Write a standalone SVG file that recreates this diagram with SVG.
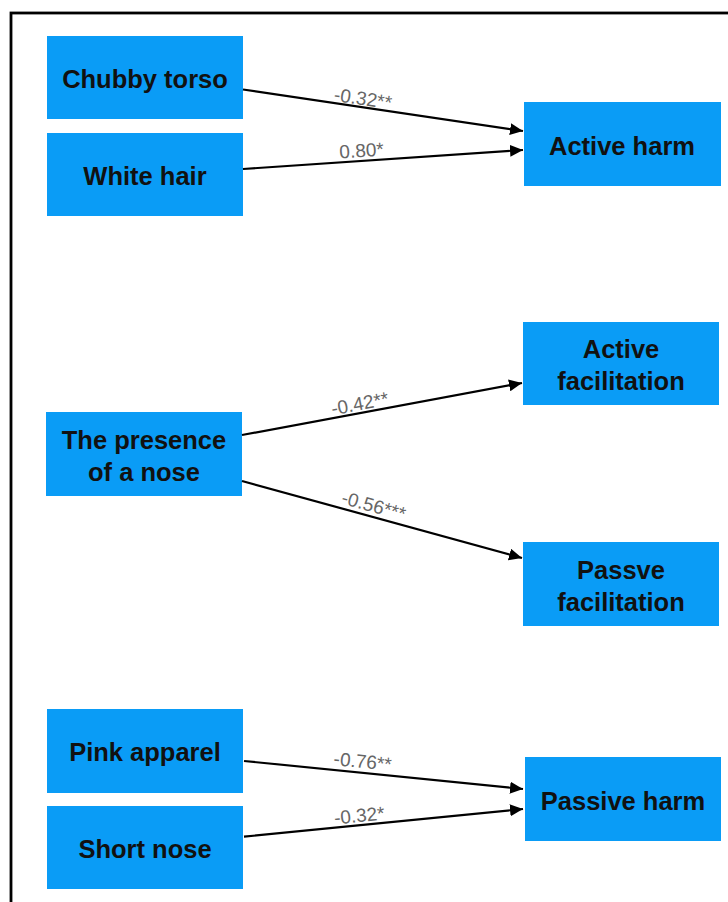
<svg xmlns="http://www.w3.org/2000/svg" width="728" height="902" viewBox="0 0 728 902">
  <style>
    .node rect { fill: #0a9cf6; }
    .node text { font-family: "Liberation Sans", Arial, Helvetica, sans-serif; font-weight: bold; font-size: 25.5px; fill: #111; text-anchor: middle; }
    .edge line { stroke: #000; stroke-width: 2.2; fill: none; marker-end: url(#arrow); }
    .edge text { font-family: "Liberation Sans", Arial, Helvetica, sans-serif; font-size: 19px; fill: #666; text-anchor: middle; }
  </style>
  <defs>
    <marker id="arrow" markerUnits="userSpaceOnUse" markerWidth="14" markerHeight="12" refX="13" refY="6" orient="auto">
      <path d="M0,0 L13,6 L0,12 z" fill="#000"/>
    </marker>
  </defs>

  <rect x="0" y="0" width="728" height="902" fill="#fff"/>
  <!-- outer frame -->
  <rect x="11" y="13" width="730" height="900" fill="none" stroke="#000" stroke-width="2.8"/>

  <g id="chubby-torso" class="node">
    <rect x="47" y="36" width="196" height="83"/>
    <text x="145" y="88">Chubby torso</text>
  </g>
  <g id="white-hair" class="node">
    <rect x="47" y="133" width="196" height="83"/>
    <text x="145" y="185">White hair</text>
  </g>
  <g id="active-harm" class="node">
    <rect x="524" y="102" width="197" height="84"/>
    <text x="622" y="155">Active harm</text>
  </g>
  <g id="active-facilitation" class="node">
    <rect x="523" y="322" width="196" height="83"/>
    <text x="621" y="358">Active</text>
    <text x="621" y="390">facilitation</text>
  </g>
  <g id="presence-of-nose" class="node">
    <rect x="46" y="412" width="196" height="84"/>
    <text x="144" y="449">The presence</text>
    <text x="144" y="481">of a nose</text>
  </g>
  <g id="passive-facilitation" class="node">
    <rect x="523" y="542" width="196" height="84"/>
    <text x="621" y="579">Passve</text>
    <text x="621" y="611">facilitation</text>
  </g>
  <g id="pink-apparel" class="node">
    <rect x="47" y="709" width="196" height="84"/>
    <text x="145" y="761">Pink apparel</text>
  </g>
  <g id="short-nose" class="node">
    <rect x="47" y="806" width="196" height="83"/>
    <text x="145" y="858">Short nose</text>
  </g>
  <g id="passive-harm" class="node">
    <rect x="525" y="757" width="196" height="84"/>
    <text x="623" y="810">Passive harm</text>
  </g>

  <g id="connectors" class="edge">
    <line x1="243" y1="89.5" x2="523" y2="131"/>
    <text x="362" y="105" transform="rotate(8.4 362 105)">-0.32**</text>

    <line x1="243" y1="169" x2="523" y2="150"/>
    <text x="362" y="157" transform="rotate(-3.9 362 157)">0.80*</text>

    <line x1="242" y1="435" x2="522" y2="383"/>
    <text x="361" y="410" transform="rotate(-10.5 361 410)">-0.42**</text>

    <line x1="242" y1="481" x2="522" y2="558"/>
    <text x="372" y="512" transform="rotate(15.4 372 512)">-0.56***</text>

    <line x1="244" y1="761" x2="523" y2="789"/>
    <text x="362" y="768" transform="rotate(5.7 362 768)">-0.76**</text>

    <line x1="244" y1="836.7" x2="523" y2="809"/>
    <text x="360" y="822" transform="rotate(-5.7 360 822)">-0.32*</text>
  </g>
</svg>
